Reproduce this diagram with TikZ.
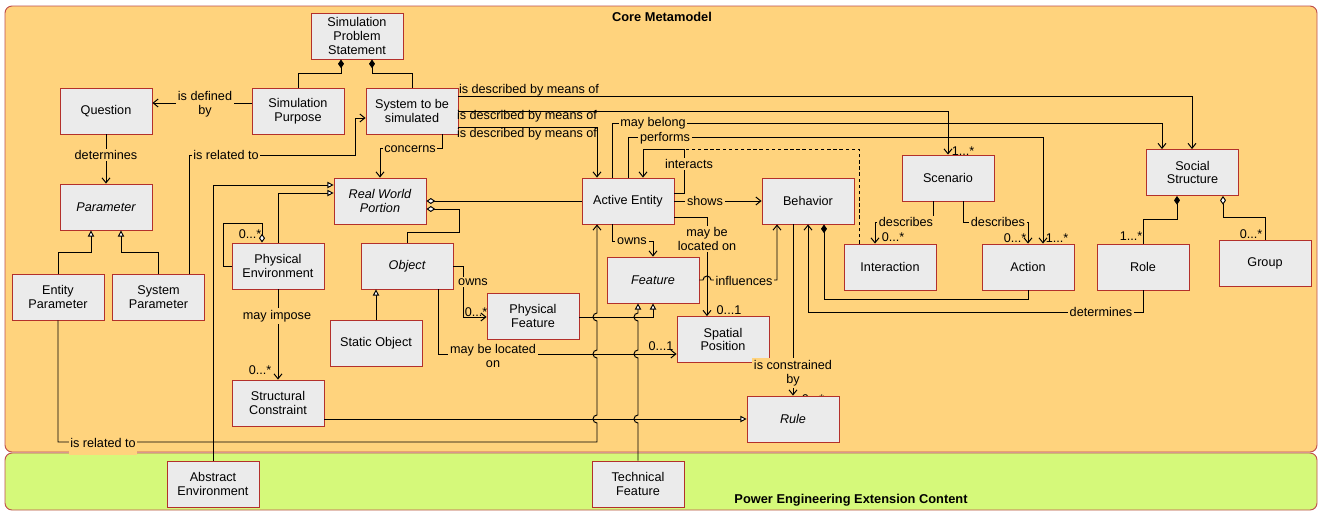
\documentclass[tikz,border=0pt]{standalone}
\usepackage{fontspec}
\setmainfont{Liberation Sans}
\usetikzlibrary{arrows.meta}

\definecolor{coreorange}{HTML}{FFD37D}
\definecolor{extgreen}{HTML}{D5F97A}
\definecolor{boxgray}{HTML}{EBEBEB}
\definecolor{boxred}{HTML}{B3302B}
\definecolor{panelred}{HTML}{C0504D}

\begin{document}
\begin{tikzpicture}[x=0.02cm, y=-0.02cm,
    font=\fontsize{7.2}{7.9}\selectfont,
    line width=0.55pt,
    cls/.style={draw=boxred, fill=boxgray, line width=0.5pt, minimum width=1.84cm,
        minimum height=0.92cm, inner sep=1pt, align=center},
    abstr/.style={cls, font=\fontsize{7.2}{7.9}\selectfont\itshape},
    lbl/.style={fill=coreorange, inner sep=1pt, align=center},
    mult/.style={inner sep=0pt},
    arr/.style={-{Straight Barb[length=2.8pt,width=4.5pt]}},
    gen/.style={-{Triangle[open,fill=white,length=3.5pt,width=3.6pt]}},
    comp/.style={{Diamond[length=5pt,width=3.4pt]}-},
    agg/.style={{Diamond[open,fill=white,length=5pt,width=3.4pt]}-}]

    \useasboundingbox (0,0) rectangle (1319,511);
    \fill[white] (0,0) rectangle (1319,511);

    % Packages
    \draw[panelred, fill=coreorange, rounded corners=4pt] (5,6) rectangle (1317,452);
    \draw[panelred, fill=extgreen, rounded corners=4pt] (5,453) rectangle (1317,510);
    \node[font=\fontsize{7.3}{8}\selectfont\bfseries] (core) at (662,17) {Core Metamodel};
    \node[font=\fontsize{7.3}{8}\selectfont\bfseries] (ext) at (851,500) {Power Engineering Extension Content};

    % hidden multiplicity behind Rule
    \node[mult] at (813,399) {0...*};

    % Classes
    \node[cls]   (sps)      at (357,36)    {Simulation\\Problem\\Statement};
    \node[cls]   (quest)    at (106,111)   {Question};
    \node[cls]   (spur)     at (298,111)   {Simulation\\Purpose};
    \node[cls]   (sys)      at (412,111)   {System to be\\simulated};
    \node[abstr] (param)    at (106,207)   {Parameter};
    \node[abstr] (rwp)      at (380,201)   {Real World\\Portion};
    \node[cls]   (entp)     at (58,297)    {Entity\\Parameter};
    \node[cls]   (sysp)     at (158.5,297) {System\\Parameter};
    \node[cls]   (physenv)  at (278,266)   {Physical\\Environment};
    \node[abstr] (obj)      at (407,266)   {Object};
    \node[cls]   (statobj)  at (376,343.5) {Static Object};
    \node[cls]   (structc)  at (278,403)   {Structural\\Constraint};
    \node[cls]   (absenv)   at (213,484)   {Abstract\\Environment};
    \node[cls]   (ae)       at (628,201)   {Active Entity};
    \node[cls]   (behav)    at (808,201)   {Behavior};
    \node[cls]   (scen)     at (948,178)   {Scenario};
    \node[cls]   (social)   at (1192.5,172.5) {Social\\Structure};
    \node[abstr] (feat)     at (653,280)   {Feature};
    \node[cls]   (physfeat) at (533,316)   {Physical\\Feature};
    \node[cls]   (spatial)  at (723,339.5) {Spatial\\Position};
    \node[abstr] (rule)     at (793,419)   {Rule};
    \node[cls]   (techf)    at (638,484)   {Technical\\Feature};
    \node[cls]   (inter)    at (890,267)   {Interaction};
    \node[cls]   (action)   at (1028,267)  {Action};
    \node[cls]   (role)     at (1143,267)  {Role};
    \node[cls]   (group)    at (1265,263)  {Group};

    % Compositions and aggregations
    \draw[comp] (sps.south -| 341,0) -- (341,73) -| (spur.north);
    \draw[comp] (sps.south -| 372,0) -- (372,73) -| (sys.north);
    \draw[agg] (rwp.east |- 0,201) -- (ae.west);
    \draw[agg] (rwp.east |- 0,209) -| (459,232) -| (obj.north);
    \draw[agg] (physenv.north -| 262,0) -- (262,223) -| (223,266) -- (physenv.west |- 0,266);
    \draw[comp] (behav.south -| 824,0) |- (1028,299) -- (action.south);
    \draw[comp] (social.south -| 1177,0) |- (1143,219) -- (role.north);
    \draw[agg] (social.south -| 1223,0) |- (1265,217) -- (group.north);

    % Generalizations
    \draw[gen] (entp.north) |- (91,252) -- (param.south -| 91,0);
    \draw[gen] (sysp.north) |- (121,252) -- (param.south -| 121,0);
    \draw[gen] (absenv.north) |- (rwp.west |- 0,185);
    \draw[gen] (physenv.north) |- (rwp.west |- 0,193);
    \draw[gen] (statobj.north) -- (obj.south -| statobj.north);
    \draw[gen] (physfeat.east |- 0,317) -| (feat.south -| 653,0);
    \draw[gen] (techf.north) -- (638,423) arc(90:270:4) -- (638,358) arc(90:270:4)
        -- (638,321) arc(90:270:4) -- (feat.south -| 638,0);
    \draw[gen] (structc.east |- 0,419) -- (rule.west |- 0,419);

    % Associations
    \draw[arr] (spur.west |- 0,103) -- (quest.east |- 0,103);
    \draw[arr] (quest.south) -- (param.north);
    \draw[arr] (sysp.north -| 189,0) -- (189,155) -| (355,118) -- (sys.west |- 0,118);
    \draw[arr] (sys.south -| 442,0) |- (380,148) -- (rwp.north -| 380,0);
    \draw[arr] (sys.east |- 0,96) -| (social.north -| 1192,0);
    \draw[arr] (sys.east |- 0,111) -| (scen.north);
    \draw[arr] (sys.east |- 0,127) -| (ae.north -| 597,0);
    \draw[arr] (ae.north -| 612,0) |- (1162,123) -- (social.north -| 1162,0);
    \draw[arr] (ae.north -| 628,0) |- (1043,137) -- (action.north -| 1043,0);
    \draw[arr] (ae.east |- 0,193) -- (684,193) |- (643,149) -- (ae.north -| 643,0);
    \draw[dash pattern=on 2pt off 1.5pt] (inter.north -| 859,0) |- (684,149);
    \draw[arr] (ae.east) -- (behav.west);
    \draw[arr] (ae.east |- 0,217) -| (spatial.north -| 707,0);
    \draw[arr] (ae.south -| 612,0) |- (653,241) -- (feat.north);
    \draw[arr] (feat.east) -- (703,280) arc(180:360:4) -| (behav.south -| 777,0);
    \draw[arr] (entp.south) |- (597,442) -- (597,423) arc(90:270:4) -- (597,358) arc(90:270:4)
        -- (597,321) arc(90:270:4) -- (ae.south -| 597,0);
    \draw[arr] (physenv.south) -- (structc.north);
    \draw[arr] (obj.east) -| (463,317) -- (physfeat.west |- 0,317);
    \draw[arr] (obj.south -| 438,0) |- (spatial.west |- 0,354);
    \draw[arr] (behav.south -| 793,0) -- (rule.north -| 793,0);
    \draw[arr] (role.south) |- (808,312) -- (behav.south -| 808,0);
    \draw[arr] (scen.south -| 933,0) |- (875,222) -- (inter.north -| 875,0);
    \draw[arr] (scen.south -| 963,0) |- (1028,222) -- (action.north);

    % Annotations
    \node[lbl] at (205,104) {is defined\\by};
    \node[lbl] at (106,155) {determines};
    \node[lbl] at (226,155) {is related to};
    \node[lbl] at (410,149) {concerns};
    \node[mult] at (529,90)  {is described by means of};
    \node[mult] at (527,116) {is described by means of};
    \node[mult] at (527,134) {is described by means of};
    \node[lbl] at (653,123) {may belong};
    \node[lbl] at (665,138) {performs};
    \node[lbl] at (689,164) {interacts};
    \node[lbl] at (705,201) {shows};
    \node[lbl] at (707,239) {may be\\located on};
    \node[lbl] at (632,241) {owns};
    \node[lbl] at (744,281) {influences};
    \node[mult] at (729,310) {0...1};
    \node[mult] at (661,346) {0...1};
    \node[lbl] at (793,373) {is constrained\\by};
    \node[lbl] at (493,356) {may be located\\on};
    \node[lbl] at (473,282) {owns};
    \node[mult] at (476,312) {0...*};
    \node[lbl] at (277,316) {may impose};
    \node[mult] at (260,370) {0...*};
    \node[mult] at (250,234) {0...*};
    \node[lbl, inner ysep=4pt] at (103,443) {is related to};
    \node[mult] at (963,151) {1...*};
    \node[lbl] at (906,222) {describes};
    \node[mult] at (893,237) {0...*};
    \node[lbl] at (998,222) {describes};
    \node[mult] at (1015,238) {0...*};
    \node[mult] at (1057,238) {1...*};
    \node[mult] at (1131,236) {1...*};
    \node[mult] at (1251,234) {0...*};
    \node[lbl] at (1101,312) {determines};
\end{tikzpicture}
\end{document}
